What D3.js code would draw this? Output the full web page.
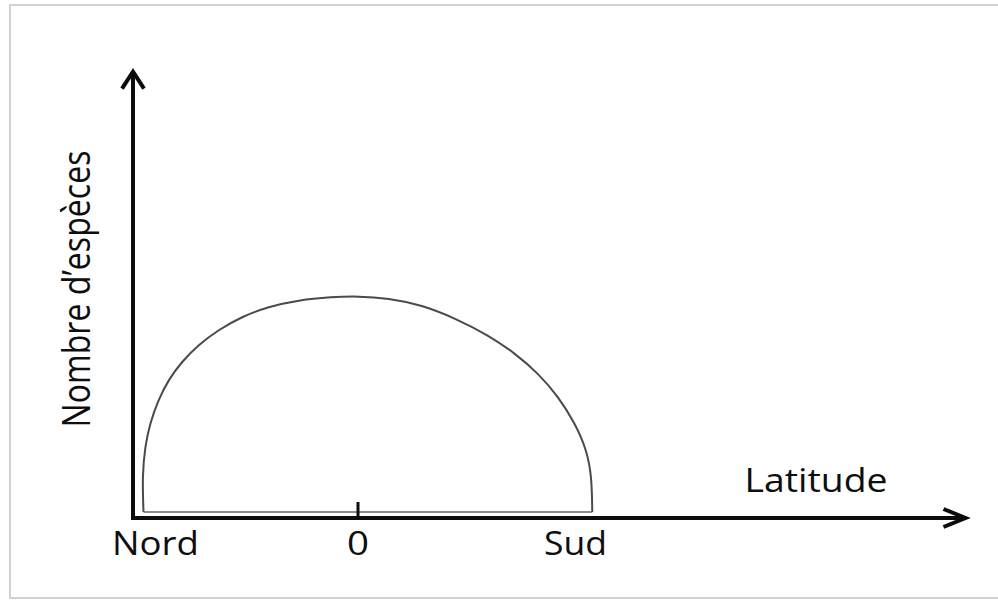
<!DOCTYPE html>
<html>
<head>
<meta charset="utf-8">
<script src="https://cdn.jsdelivr.net/npm/d3@7"></script>
<style>
  body { margin: 0; background: #fff; }
  text { font-family: "Open Sans", "DejaVu Sans", sans-serif; fill: #0e0e0e; }
</style>
</head>
<body>
<div id="chart"></div>
<script>
// données (latitude en degrés, nombre d'espèces en unités relatives)
const curveLat = [-85.8, -86.3, -85.2, -83.2, -79.9, -75.9, -70.5, -63.9, -55.9, -46.5, -35.9, -23.9, -10.5, 0.1,
    12.1, 25.5, 38.8, 52.1, 62.8, 72.1, 80.1, 86.8, 91.5, 93.5, 93.7];
const curveSpecies = [2.7, 18.7, 32.3, 42.9, 53.4, 62.4, 70.7, 78.3, 85.1, 91.1, 95.6, 98.6, 100, 100.4,
    99.4, 96.4, 90.4, 82.8, 74.5, 65.5, 54.9, 42.9, 30.8, 18.7, 2.7];
const tickLabels = ["Nord", "0", "Sud"];
const tickLabelLat = [-81, 0, 87];
const tickMarks = [0];
const xTitle = "Latitude";
const yTitle = "Nombre d\u2019espèces";

const W = 998, H = 600;

const svg = d3.select("#chart")
    .append("svg")
    .attr("width", W)
    .attr("height", H);

// cadre gris
svg.append("rect")
    .attr("x", 10).attr("y", 5)
    .attr("width", 1000).attr("height", 593)
    .attr("fill", "#fff")
    .attr("stroke", "#d2d2d2")
    .attr("stroke-width", 2);

const x = d3.scaleLinear().domain([-90, 90]).range([133, 583]);
const y = d3.scaleLinear().domain([0, 100]).range([518, 297]);

const xEnd = x(243);   // pointe de la flèche horizontale
const yEnd = y(202);   // pointe de la flèche verticale

// courbe
const pts = curveLat.map((d, i) => [x(d), y(curveSpecies[i])]);
const line = d3.line().curve(d3.curveBasis);
svg.append("path")
    .attr("d", line(pts))
    .attr("fill", "none")
    .attr("stroke", "#4a4a4a")
    .attr("stroke-width", 2);

// base de la courbe
svg.append("line")
    .attr("x1", pts[0][0]).attr("y1", pts[0][1])
    .attr("x2", pts[pts.length - 1][0]).attr("y2", pts[pts.length - 1][1])
    .attr("stroke", "#666")
    .attr("stroke-width", 1.6);

// axes
const axisColor = "#0c0c0c";
svg.append("line")
    .attr("x1", x(-90) - 2).attr("y1", y(0))
    .attr("x2", xEnd - 2).attr("y2", y(0))
    .attr("stroke", axisColor).attr("stroke-width", 4);
svg.append("line")
    .attr("x1", x(-90)).attr("y1", y(0) + 2)
    .attr("x2", x(-90)).attr("y2", yEnd + 2)
    .attr("stroke", axisColor).attr("stroke-width", 4);

// pointes de flèches
svg.append("path")
    .attr("d", `M${xEnd - 22},${y(0) - 9} L${xEnd},${y(0)} L${xEnd - 22},${y(0) + 9}`)
    .attr("fill", "none").attr("stroke", axisColor)
    .attr("stroke-width", 4).attr("stroke-linejoin", "miter");
svg.append("path")
    .attr("d", `M${x(-90) - 11},${yEnd + 17} L${x(-90)},${yEnd} L${x(-90) + 11},${yEnd + 17}`)
    .attr("fill", "none").attr("stroke", axisColor)
    .attr("stroke-width", 4).attr("stroke-linejoin", "miter");

// graduation
svg.selectAll(".tick")
    .data(tickMarks)
    .enter()
    .append("line")
    .attr("class", "tick")
    .attr("x1", d => x(d)).attr("x2", d => x(d))
    .attr("y1", y(0) - 16).attr("y2", y(0) + 2)
    .attr("stroke", axisColor).attr("stroke-width", 3);

// étiquettes
const labelLen = { "Nord": 87, "0": 22, "Sud": 63 };
svg.selectAll(".label")
    .data(tickLabels)
    .enter()
    .append("text")
    .attr("class", "label")
    .attr("x", (d, i) => x(tickLabelLat[i]))
    .attr("y", 555)
    .attr("text-anchor", "middle")
    .attr("textLength", d => labelLen[d])
    .attr("lengthAdjust", "spacingAndGlyphs")
    .style("font-size", "32px")
    .style("font-weight", 500)
    .text(d => d);

svg.append("text")
    .attr("x", 816)
    .attr("y", 492)
    .attr("text-anchor", "middle")
    .attr("textLength", 143)
    .attr("lengthAdjust", "spacingAndGlyphs")
    .style("font-size", "32px")
    .style("font-weight", 500)
    .text(xTitle);

svg.append("text")
    .attr("transform", "translate(90, 289) rotate(-90)")
    .attr("text-anchor", "middle")
    .attr("textLength", 277)
    .attr("lengthAdjust", "spacingAndGlyphs")
    .style("font-size", "38px")
    .style("font-weight", 500)
    .text(yTitle);
</script>
</body>
</html>
